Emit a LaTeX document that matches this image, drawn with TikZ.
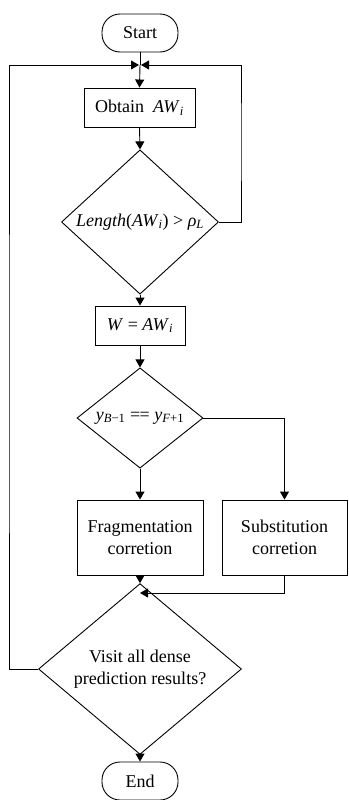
\documentclass[tikz,border=0pt]{standalone}
\usepackage{fontspec}
\setmainfont{Liberation Serif}
\usetikzlibrary{shapes.geometric,arrows.meta}
\begin{document}
\begin{tikzpicture}[x=1pt,y=-1pt,
  font=\fontsize{18}{22}\selectfont,
  every node/.style={draw,line width=0.9pt,inner sep=0pt,align=center},
  terminal/.style={rectangle,rounded corners=18pt,minimum width=76pt,minimum height=38pt},
  procbox/.style={rectangle},
  decision/.style={diamond},
  conn/.style={line width=0.9pt},
  arr/.style={conn,-{Triangle[length=8pt,width=9pt]}}]
\useasboundingbox (0,0) rectangle (348,800);
\node[terminal] (start) at (140,33) {Start};
\coordinate (jn) at (140,65);
\node[procbox,minimum width=111pt,minimum height=39pt] (obtain) at (139.5,107.5) {Obtain\ \ \textit{AW}\textsubscript{\textit{i}}};
\node[decision,minimum width=157pt,minimum height=115pt] (d1) at (140,222) {\textit{Length}(\textit{AW}\textsubscript{\textit{i}}) \textgreater\ \textit{ρ}\textsubscript{\textit{L}}};
\node[procbox,minimum width=90pt,minimum height=39pt] (w) at (140,325.5) {\textit{W} = \textit{AW}\textsubscript{\textit{i}}};
\node[decision,minimum width=126pt,minimum height=92pt] (d2) at (140,418) {\textit{y}\textsubscript{\textit{B}−1} =\kern-0.5pt= \textit{y}\textsubscript{\textit{F}+1}};
\node[procbox,minimum width=126pt,minimum height=75pt] (frag) at (140,537.5) {Fragmentation\\corretion};
\node[procbox,minimum width=125pt,minimum height=75pt] (subs) at (284.5,537.5) {Substitution\\corretion};
\coordinate (mg) at (140,593);
\node[decision,minimum width=203pt,minimum height=115pt] (d3) at (140,669) {Visit all dense\\prediction results?};
\node[terminal] (end) at (140,781) {End};

\draw[conn] (start.south) -- (jn);
\draw[arr] (jn) -- (obtain.north);
\draw[arr] (obtain.south) -- (d1.north);
\draw[arr] (d1.east) -| (241,140) |- ([xshift=1pt]jn);
\draw[arr] (d3.west) -| (9,400) |- ([xshift=-1pt]jn);
\draw[arr] (d1.south) -- (w.north);
\draw[arr] (w.south) -- (d2.north);
\draw[arr] (d2.south) -- (frag.north);
\draw[arr] (d2.east) -| (subs.north);
\draw[arr] (subs.south) |- (mg);
\draw[arr] (frag.south) -- (d3.north);
\draw[arr] (d3.south) -- (end.north);
\end{tikzpicture}
\end{document}
